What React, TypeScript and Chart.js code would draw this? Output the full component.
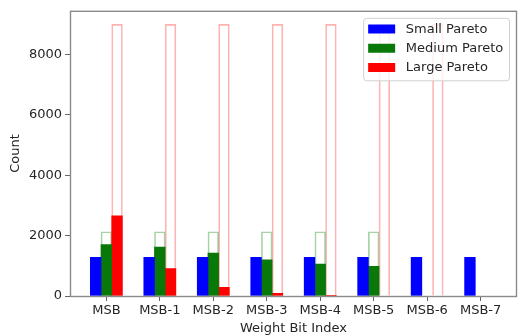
import React, { useEffect, useRef } from 'react';
import { Chart, registerables } from 'chart.js';

Chart.register(...registerables);

const categories = ['MSB', 'MSB-1', 'MSB-2', 'MSB-3', 'MSB-4', 'MSB-5', 'MSB-6', 'MSB-7'];
const smallPareto = [1280, 1280, 1280, 1280, 1280, 1280, 1280, 1280];
const mediumPareto = [1700, 1620, 1420, 1200, 1060, 985, 0, 0];
const largePareto = [2660, 910, 285, 88, 15, 0, 0, 0];
const mediumCap = [2130, 2130, 2130, 2130, 2130, 2130, null, null];
const largeCap = [9000, 9000, 9000, 9000, 9000, 9000, 9000, null];
const yTicks = [0, 2000, 4000, 6000, 8000];
const seriesNames = ['Small Pareto', 'Medium Pareto', 'Large Pareto'];
const seriesColors = ['#0000ff', '#087808', '#ff0000'];
const seriesOffsets = [-0.2, 0, 0.2];

const BAR_W = 0.2;
const FONT = '"DejaVu Sans", "Liberation Sans", sans-serif';

function toPoints(vals: (number | null)[], off: number) {
  const out: { x: number; y: number }[] = [];
  vals.forEach((v, i) => {
    if (v !== null && v !== undefined && v !== 0) out.push({ x: i + off, y: v });
  });
  return out;
}

const framePlugin = {
  id: 'frame',
  afterDatasetsDraw(chart: any) {
    const { ctx, chartArea } = chart;
    ctx.save();
    ctx.strokeStyle = '#8a8a8a';
    ctx.lineWidth = 1.4;
    ctx.strokeRect(chartArea.left + 0.5, chartArea.top + 0.5, chartArea.right - chartArea.left - 1, chartArea.bottom - chartArea.top);
    ctx.restore();
  },
};

const legendPlugin = {
  id: 'paretoLegend',
  afterDraw(chart: any) {
    const { ctx, chartArea } = chart;
    ctx.save();
    ctx.font = `13px ${FONT}`;
    const textW = Math.max(...seriesNames.map((s) => ctx.measureText(s).width));
    const padX = 5;
    const handleW = 27;
    const handleH = 9;
    const gap = 10.7;
    const rowH = 19.25;
    const w = padX + handleW + gap + textW + 5.7;
    const h = 62.5;
    const right = chartArea.right - 8;
    const top = chartArea.top + 7;
    const left = right - w;
    ctx.beginPath();
    if ((ctx as any).roundRect) (ctx as any).roundRect(left + 0.5, top + 0.5, w, h, 3);
    else ctx.rect(left + 0.5, top + 0.5, w, h);
    ctx.fillStyle = 'rgba(255,255,255,0.8)';
    ctx.fill();
    ctx.strokeStyle = '#d0d0d0';
    ctx.lineWidth = 1;
    ctx.stroke();
    seriesNames.forEach((name, i) => {
      const cy = top + 11.2 + i * rowH;
      ctx.fillStyle = seriesColors[i];
      ctx.fillRect(left + padX, cy - handleH / 2, handleW, handleH);
      ctx.fillStyle = '#262626';
      ctx.textBaseline = 'middle';
      ctx.textAlign = 'left';
      ctx.fillText(name, left + padX + handleW + gap, cy + 0.5);
    });
    ctx.restore();
  },
};

export default function App() {
  const ref = useRef<HTMLCanvasElement>(null);

  useEffect(() => {
    document.body.style.margin = '0';
    const xMin = seriesOffsets[0] - BAR_W / 2;
    const xMax = categories.length - 1 + seriesOffsets[2] + BAR_W / 2;
    const xPad = (xMax - xMin) * 0.05;
    const yMax = Math.max(...(largeCap.filter((v) => v !== null) as number[])) * 1.05;

    const chart = new Chart(ref.current as HTMLCanvasElement, {
      type: 'bar',
      data: {
        datasets: [
          {
            label: 'Medium cap',
            data: toPoints(mediumCap, seriesOffsets[1]),
            backgroundColor: 'rgba(0,0,0,0)',
            borderColor: 'rgba(0,128,0,0.35)',
            borderWidth: 1,
            borderSkipped: 'start',
            order: 10,
          },
          {
            label: 'Large cap',
            data: toPoints(largeCap, seriesOffsets[2]),
            backgroundColor: 'rgba(0,0,0,0)',
            borderColor: 'rgba(255,0,0,0.3)',
            borderWidth: 1,
            borderSkipped: 'start',
            order: 10,
          },
          {
            label: seriesNames[0],
            data: toPoints(smallPareto, seriesOffsets[0]),
            backgroundColor: seriesColors[0],
            borderWidth: 0,
            order: 1,
          },
          {
            label: seriesNames[1],
            data: toPoints(mediumPareto, seriesOffsets[1]),
            backgroundColor: seriesColors[1],
            borderWidth: 0,
            order: 1,
          },
          {
            label: seriesNames[2],
            data: toPoints(largePareto, seriesOffsets[2]),
            backgroundColor: seriesColors[2],
            borderWidth: 0,
            order: 1,
          },
        ] as any,
      },
      options: {
        responsive: false,
        animation: false,
        devicePixelRatio: 1,
        layout: { padding: { left: 0, top: 8, right: 2, bottom: 0 } },
        datasets: {
          bar: { grouped: false, barPercentage: 1, categoryPercentage: 1 },
        } as any,
        plugins: {
          legend: { display: false },
          tooltip: { enabled: false },
        },
        scales: {
          x: {
            type: 'linear',
            offset: false,
            min: xMin - xPad,
            max: xMax + xPad,
            afterBuildTicks: (scale: any) => {
              scale.ticks = categories.map((_, i) => ({ value: i }));
            },
            afterFit: (scale: any) => {
              scale.height = 39;
            },
            border: { display: false },
            grid: {
              offset: false,
              drawOnChartArea: false,
              drawTicks: true,
              tickLength: 5,
              color: '#666',
            },
            ticks: {
              autoSkip: false,
              maxRotation: 0,
              padding: 2,
              color: '#262626',
              font: { family: FONT, size: 13 },
              callback: (v: any) => categories[v] ?? '',
            },
            title: {
              display: true,
              text: 'Weight Bit Index',
              color: '#262626',
              font: { family: FONT, size: 13, lineHeight: 1 },
              padding: { top: 0, bottom: 0 },
            },
          },
          y: {
            type: 'linear',
            min: 0,
            max: yMax,
            afterBuildTicks: (scale: any) => {
              scale.ticks = yTicks.map((v) => ({ value: v }));
            },
            afterFit: (scale: any) => {
              scale.width = 70;
            },
            border: { display: false },
            grid: {
              drawOnChartArea: false,
              drawTicks: true,
              tickLength: 5,
              color: '#666',
            },
            ticks: {
              padding: 3,
              color: '#262626',
              font: { family: FONT, size: 13 },
              callback: (v: any) => String(v),
            },
            title: {
              display: true,
              text: 'Count',
              color: '#262626',
              font: { family: FONT, size: 13 },
              padding: { top: 8, bottom: 0 },
            },
          },
        },
      } as any,
      plugins: [framePlugin, legendPlugin],
    });
    return () => chart.destroy();
  }, []);

  return (
    <div style={{ width: 519, height: 335 }}>
      <canvas ref={ref} width={519} height={335} style={{ display: 'block' }} />
    </div>
  );
}
